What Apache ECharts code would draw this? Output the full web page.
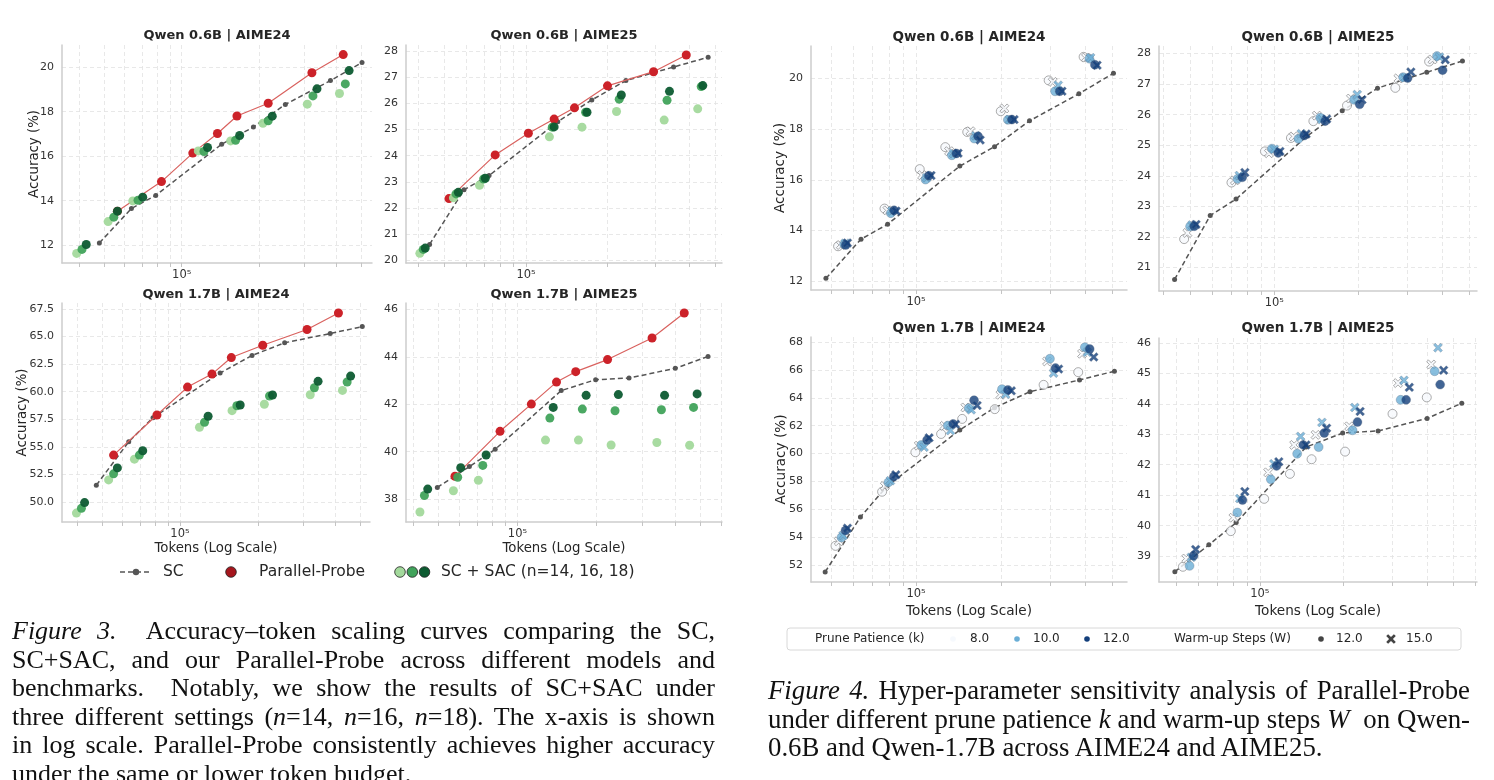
<!DOCTYPE html>
<html>
<head>
<meta charset="utf-8">
<script src="https://cdn.jsdelivr.net/npm/echarts@6/dist/echarts.min.js"></script>
<style>
html,body{margin:0;padding:0;background:#fff;width:1494px;height:780px;overflow:hidden;}
#chart{position:absolute;left:0;top:0;width:1494px;height:780px;}
.cap{position:absolute;font-family:'Liberation Serif','Times New Roman',serif;color:#111;font-size:26px;line-height:28.6px;}
.cap .j{text-align:justify;text-align-last:justify;}
.cap .l{text-align:left;}
.cap i{font-style:italic;}
</style>
</head>
<body>
<div id="chart"></div>
<div class="cap" style="left:12px;top:617px;width:703px;">
<div class="j"><i>Figure 3.</i>&nbsp; Accuracy–token scaling curves comparing the SC,</div>
<div class="j">SC+SAC, and our Parallel-Probe across different models and</div>
<div class="j">benchmarks.&nbsp; Notably, we show the results of SC+SAC under</div>
<div class="j">three different settings (<i>n</i>=14, <i>n</i>=16, <i>n</i>=18). The x-axis is shown</div>
<div class="j">in log scale. Parallel-Probe consistently achieves higher accuracy</div>
<div class="l">under the same or lower token budget.</div>
</div>
<div class="cap" style="left:768px;top:676px;width:702px;font-size:26.8px;">
<div class="j"><i>Figure 4.</i> Hyper-parameter sensitivity analysis of Parallel-Probe</div>
<div class="j">under different prune patience <i>k</i> and warm-up steps <i>W</i>&nbsp; on Qwen-</div>
<div class="l">0.6B and Qwen-1.7B across AIME24 and AIME25.</div>
</div>
<script>
// ---------------- DATA ----------------
const xTickValues = [40000,50000,60000,70000,80000,90000,100000,200000,300000,400000,500000,600000];
const xLabelValues = [100000];
const yTicks06_24 = [12,14,16,18,20];
const yTicks06_25 = [20,21,22,23,24,25,26,27,28];
const yTicks17_24 = [50,52.5,55,57.5,60,62.5,65,67.5];
const yTicks17_25 = [38,40,42,44,46];
const yTicksF4_06_24 = [12,14,16,18,20];
const yTicksF4_06_25 = [21,22,23,24,25,26,27,28];
const yTicksF4_17_24 = [52,54,56,58,60,62,64,66,68];
const yTicksF4_17_25 = [39,40,41,42,43,44,45,46];

// SC baseline (tokens, accuracy %)
const sc06_24 = [[47800,12.10],[63700,13.65],[79200,14.24],[143000,16.54],[190000,17.31],[253000,18.33],[379000,19.40],[503000,20.21]];
const sc06_25 = [[44000,20.61],[59000,22.70],[73000,23.24],[131000,25.30],[175000,26.13],[234000,26.87],[351000,27.39],[471000,27.76]];
const sc17_24 = [[47500,51.52],[63400,55.46],[78700,57.65],[143000,61.70],[190000,63.29],[254000,64.44],[381000,65.28],[507000,65.91]];
const sc17_25 = [[49400,38.49],[65500,39.37],[82200,40.10],[147000,42.58],[199000,43.04],[267000,43.11],[401000,43.52],[535000,44.02]];

// Parallel-Probe
const pp06_24 = [[56200,13.53],[83400,14.86],[110400,16.14],[137700,17.02],[164000,17.81],[217000,18.38],[321000,19.75],[425000,20.57]];
const pp06_25 = [[51900,22.36],[76900,24.03],[102000,24.86],[127000,25.40],[151000,25.83],[200000,26.67],[296000,27.21],[391000,27.85]];
const pp17_24 = [[55400,54.25],[81500,57.89],[107000,60.42],[133000,61.60],[158000,63.10],[209000,64.22],[310000,65.65],[410000,67.14]];
const pp17_25 = [[57700,38.96],[85800,40.86],[113000,42.01],[141000,42.94],[167000,43.38],[221000,43.89],[327000,44.80],[434000,45.86]];

// SC + SAC (n = 14, 16, 18)
const sac06_24_n14 = [[39000,11.63],[51700,13.06],[64500,13.99],[116000,16.24],[155000,16.69],[207000,17.48],[308000,18.34],[411000,18.82]];
const sac06_24_n16 = [[40900,11.81],[54400,13.26],[67600,14.02],[122000,16.21],[162000,16.72],[217000,17.59],[324000,18.71],[433000,19.25]];
const sac06_24_n18 = [[42500,12.03],[56200,13.53],[70500,14.16],[126000,16.39],[168000,16.93],[225000,17.80],[336000,19.03],[448000,19.85]];
const sac06_25_n14 = [[40500,20.27],[53900,22.39],[67300,22.87],[122000,24.72],[161000,25.09],[216000,25.69],[324000,25.36],[431000,25.79]];
const sac06_25_n16 = [[41700,20.42],[55100,22.54],[69700,23.11],[125000,25.09],[166000,25.66],[221000,26.16],[332000,26.12],[444000,26.64]];
const sac06_25_n18 = [[42400,20.47],[56200,22.60],[70700,23.14],[127000,25.10],[168000,25.66],[225000,26.32],[339000,26.46],[450000,26.68]];
const sac17_24_n14 = [[39800,48.99],[53000,52.00],[66700,53.88],[119000,56.78],[159000,58.28],[212000,58.86],[319000,59.73],[425000,60.12]];
const sac17_24_n16 = [[41600,49.42],[55400,52.55],[69700,54.25],[124500,57.23],[166000,58.73],[222000,59.61],[331000,60.36],[443000,60.88]];
const sac17_24_n18 = [[42800,49.94],[57300,53.09],[71800,54.64],[128500,57.77],[171000,58.80],[228000,59.70],[342000,60.94],[457000,61.42]];
const sac17_25_n14 = [[42400,37.45],[56900,38.35],[70900,38.79],[128000,40.49],[171000,40.49],[228000,40.28],[341000,40.39],[455000,40.27]];
const sac17_25_n16 = [[44100,38.15],[59100,38.92],[73700,39.42],[133000,41.42],[177000,41.80],[236000,41.73],[355000,41.77],[471000,41.87]];
const sac17_25_n18 = [[45400,38.42],[60700,39.32],[75900,39.86],[137000,41.87],[183000,42.38],[243000,42.41],[365000,42.38],[486000,42.44]];

// Figure 4: prune patience k x warm-up steps W
const hp06_24_k8w12  = [[52800,13.37],[77200,14.86],[103000,16.42],[127000,17.29],[152000,17.89],[200000,18.71],[296000,19.93],[394000,20.86]];
const hp06_24_k8w15  = [[54000,13.42],[79100,14.79],[105000,16.18],[131000,17.13],[156000,17.92],[206000,18.82],[306000,19.87],[402000,20.83]];
const hp06_24_k10w12 = [[55500,13.45],[81300,14.68],[108000,16.01],[134000,16.97],[161000,17.63],[212000,18.37],[312000,19.50],[413000,20.79]];
const hp06_24_k10w15 = [[56000,13.49],[82000,14.76],[109000,16.08],[136000,17.04],[163000,17.74],[215000,18.38],[320000,19.74],[417000,20.83]];
const hp06_24_k12w12 = [[56200,13.42],[83500,14.79],[111000,16.16],[139000,17.04],[166000,17.72],[219000,18.38],[324000,19.50],[432000,20.55]];
const hp06_24_k12w15 = [[57000,13.50],[84900,14.76],[113000,16.17],[141000,17.05],[169000,17.57],[223000,18.38],[330000,19.50],[440000,20.53]];

const hp06_25_k8w12  = [[47600,21.93],[70300,23.78],[92600,24.80],[114700,25.24],[138000,25.79],[182000,26.30],[271000,26.88],[358000,27.74]];
const hp06_25_k8w15  = [[48900,22.13],[72300,23.85],[95700,24.74],[117300,25.29],[142000,25.97],[188000,26.53],[278000,27.19],[368000,27.81]];
const hp06_25_k10w12 = [[50000,22.34],[73900,23.90],[98100,24.89],[122000,25.21],[146000,25.90],[193000,26.49],[289000,27.23],[382000,27.92]];
const hp06_25_k10w15 = [[50800,22.39],[75000,24.01],[100000,24.87],[125000,25.38],[148000,25.84],[198000,26.66],[294000,27.21],[390000,27.89]];
const hp06_25_k12w12 = [[51700,22.35],[76800,23.95],[103300,24.75],[128000,25.32],[152000,25.79],[202000,26.34],[300000,27.20],[400000,27.46]];
const hp06_25_k12w15 = [[52500,22.41],[78500,24.11],[104800,24.80],[130000,25.37],[154000,25.86],[206000,26.49],[308000,27.40],[409000,27.80]];

const hp17_24_k8w12  = [[51700,53.39],[75700,57.27],[99400,60.10],[122700,61.41],[145800,62.49],[190400,63.19],[284000,64.93],[377000,65.84]];
const hp17_24_k8w15  = [[53100,53.72],[77400,57.68],[102200,60.57],[126000,61.99],[149700,63.31],[199400,64.22],[292000,66.61],[389000,67.16]];
const hp17_24_k10w12 = [[54300,53.99],[79700,57.94],[104400,60.62],[129600,62.01],[153900,63.26],[202000,64.62],[299000,66.80],[398000,67.62]];
const hp17_24_k10w15 = [[55000,54.13],[81000,58.06],[106700,60.46],[132500,61.65],[157000,63.14],[208000,64.26],[308000,65.77],[406000,67.26]];
const hp17_24_k12w12 = [[56100,54.49],[83300,58.35],[109400,60.98],[135400,62.13],[160700,63.83],[212000,64.57],[313000,66.13],[414000,67.50]];
const hp17_24_k12w15 = [[57000,54.66],[84700,58.49],[111200,61.13],[138000,62.11],[164800,63.45],[218000,64.50],[321000,66.06],[428000,66.92]];

const hp17_25_k8w12  = [[52800,38.65],[78600,39.82],[103700,40.88],[128400,41.70],[153700,42.18],[203000,42.43],[301000,43.67],[400000,44.21]];
const hp17_25_k8w15  = [[54300,38.92],[80300,40.26],[107200,41.75],[133000,42.65],[158900,42.98],[210000,43.26],[315000,44.68],[415000,45.29]];
const hp17_25_k10w12 = [[55800,38.68],[83000,40.43],[109600,41.52],[136400,42.36],[163000,42.58],[216000,43.13],[322000,44.13],[427000,45.07]];
const hp17_25_k10w15 = [[56600,38.96],[84700,40.89],[112400,42.03],[140300,42.93],[167500,43.39],[220000,43.88],[331000,44.77],[439000,45.84]];
const hp17_25_k12w12 = [[57700,39.01],[86600,40.84],[114900,41.96],[143400,42.65],[170800,43.04],[225000,43.40],[337000,44.13],[447000,44.63]];
const hp17_25_k12w15 = [[58700,39.22],[88300,41.12],[117100,42.10],[146700,42.65],[174100,43.20],[230000,43.75],[346000,44.54],[460000,45.10]];

// ---------------- STYLE / LAYOUT ----------------
const FONT = 'DejaVu Sans';
const GREENS = ['#a3d99c', '#41a35b', '#0d5b31'];
const BLUES = ['#f6f9fd', '#6aaed6', '#133f7b'];
const XPATH = 'path://M2,0L5,3L8,0L10,2L7,5L10,8L8,10L5,7L2,10L0,8L3,5L0,2Z';

const panels = [
  {grid:{left:62, top:45, width:310, height:218}, x:[34200,550000], y:[11.2,21.0], yt:yTicks06_24, dec:0, title:'Qwen 0.6B | AIME24', tx:217, ty:36, yName:true, xName:false, ts:13, yGap:21},
  {grid:{left:406, top:45, width:316, height:218}, x:[36000,530000], y:[19.9,28.23], yt:yTicks06_25, dec:0, title:'Qwen 0.6B | AIME25', tx:564, ty:36, yName:false, xName:false, ts:13, yGap:21},
  {grid:{left:62, top:303, width:308, height:219}, x:[35000,543000], y:[48.18,68.05], yt:yTicks17_24, dec:1, title:'Qwen 1.7B | AIME24', tx:216, ty:295, yName:true, xName:true, ts:13, yGap:33},
  {grid:{left:406, top:303, width:316, height:219}, x:[37500,605000], y:[37.03,46.28], yt:yTicks17_25, dec:0, title:'Qwen 1.7B | AIME25', tx:564, ty:295, yName:false, xName:true, ts:13, yGap:21},
  {grid:{left:811, top:46, width:316, height:244}, x:[42300,562000], y:[11.64,21.29], yt:yTicksF4_06_24, dec:0, title:'Qwen 0.6B | AIME24', tx:969, ty:37, yName:true, xName:false, ts:13.5, yGap:24},
  {grid:{left:1159, top:46, width:318, height:245}, x:[38700,531000], y:[20.23,28.25], yt:yTicksF4_06_25, dec:0, title:'Qwen 0.6B | AIME25', tx:1318, ty:37, yName:false, xName:false, ts:13.5, yGap:24},
  {grid:{left:811, top:337, width:316, height:245}, x:[42300,562000], y:[50.8,68.36], yt:yTicksF4_17_24, dec:0, title:'Qwen 1.7B | AIME24', tx:969, ty:328, yName:true, xName:true, ts:13.5, yGap:23},
  {grid:{left:1159, top:338, width:318, height:244}, x:[43300,607000], y:[38.15,46.16], yt:yTicksF4_17_25, dec:0, title:'Qwen 1.7B | AIME25', tx:1318, ty:328, yName:false, xName:true, ts:13.5, yGap:23}
];

const grids = [], xAxes = [], yAxes = [], series = [], graphics = [];
const gridLine = {show:true, lineStyle:{color:'#e2e2e2', width:0.8, type:[4,3]}};
const spine = {show:true, onZero:false, lineStyle:{color:'#cdcdcd', width:1.5}};

panels.forEach((p, i) => {
  grids.push(Object.assign({containLabel:false}, p.grid));
  const xt = xTickValues.filter(v => v >= p.x[0] && v <= p.x[1]);
  const nameFs = i >= 4 ? 13.6 : 13.3;
  xAxes.push({
    type:'log', logBase:10, gridIndex:i, min:p.x[0], max:p.x[1],
    axisLine:spine,
    axisTick:{show:true, length:4, customValues:xt, lineStyle:{color:'#c4c4c4', width:1}},
    axisLabel:{show:true, customValues:xLabelValues, formatter:() => '10\u2075', color:'#333', fontSize:11.5, fontFamily:FONT, margin:6},
    splitLine:gridLine, minorTick:{show:false}, minorSplitLine:{show:false},
    name:p.xName ? 'Tokens (Log Scale)' : '', nameLocation:'middle', nameGap: i >= 4 ? 22 : 20, nameMoveOverlap:false,
    nameTextStyle:{fontFamily:FONT, fontSize:nameFs, color:'#262626'}
  });
  yAxes.push({
    type:'value', gridIndex:i, min:p.y[0], max:p.y[1],
    axisLine:spine,
    axisTick:{show:false, customValues:p.yt},
    axisLabel:{show:true, customValues:p.yt, formatter:v => Number(v).toFixed(p.dec), color:'#333', fontSize:11, fontFamily:FONT, margin:8},
    splitLine:gridLine,
    name:p.yName ? 'Accuracy (%)' : '', nameLocation:'middle', nameGap:p.yGap, nameRotate:90, nameMoveOverlap:false,
    nameTextStyle:{fontFamily:FONT, fontSize:nameFs, color:'#262626'}
  });
  graphics.push({type:'text', x:p.tx, y:p.ty, style:{text:p.title, font:'bold ' + p.ts + 'px ' + FONT, fill:'#262626', align:'center', verticalAlign:'middle'}});
});

function scSeries(i, data) {
  return {type:'line', xAxisIndex:i, yAxisIndex:i, data:data, symbol:'circle', symbolSize:5,
    lineStyle:{color:'#555', width:1.5, type:[5,3]}, itemStyle:{color:'#555'}, z:2, silent:true};
}
function fig3(i, sc, pp, a, b, c) {
  series.push(scSeries(i, sc));
  series.push({type:'line', xAxisIndex:i, yAxisIndex:i, data:pp, symbol:'circle', symbolSize:9,
    lineStyle:{color:'#d9625f', width:1.2}, itemStyle:{color:'#cc2229'}, z:3, silent:true});
  [a, b, c].forEach((d, k) => series.push({type:'scatter', xAxisIndex:i, yAxisIndex:i, data:d, symbol:'circle', symbolSize:9,
    itemStyle:{color:GREENS[k], opacity:0.95}, z:4 + k, silent:true}));
}
function fig4(i, sc, sets) {
  series.push(scSeries(i, sc));
  sets.forEach((d, j) => {
    const k = Math.floor(j / 2), isX = j % 2 === 1;
    series.push({type:'scatter', xAxisIndex:i, yAxisIndex:i, data:d,
      symbol: isX ? XPATH : 'circle', symbolSize: 9,
      itemStyle:{color:BLUES[k], borderColor: k === 0 ? '#7d7d7d' : '#5a6a80', borderWidth: k === 0 ? 0.8 : 0.4},
      z:4 + k, silent:true});
  });
}
fig3(0, sc06_24, pp06_24, sac06_24_n14, sac06_24_n16, sac06_24_n18);
fig3(1, sc06_25, pp06_25, sac06_25_n14, sac06_25_n16, sac06_25_n18);
fig3(2, sc17_24, pp17_24, sac17_24_n14, sac17_24_n16, sac17_24_n18);
fig3(3, sc17_25, pp17_25, sac17_25_n14, sac17_25_n16, sac17_25_n18);
fig4(4, sc06_24, [hp06_24_k8w12, hp06_24_k8w15, hp06_24_k10w12, hp06_24_k10w15, hp06_24_k12w12, hp06_24_k12w15]);
fig4(5, sc06_25, [hp06_25_k8w12, hp06_25_k8w15, hp06_25_k10w12, hp06_25_k10w15, hp06_25_k12w12, hp06_25_k12w15]);
fig4(6, sc17_24, [hp17_24_k8w12, hp17_24_k8w15, hp17_24_k10w12, hp17_24_k10w15, hp17_24_k12w12, hp17_24_k12w15]);
fig4(7, sc17_25, [hp17_25_k8w12, hp17_25_k8w15, hp17_25_k10w12, hp17_25_k10w15, hp17_25_k12w12, hp17_25_k12w15]);

// ---- Figure 3 legend ----
const LY = 572;
const lf = '15.5px ' + FONT;
graphics.push(
  {type:'line', shape:{x1:120, y1:LY, x2:152, y2:LY}, style:{stroke:'#555', lineWidth:1.5, lineDash:[5,3]}},
  {type:'circle', shape:{cx:136, cy:LY, r:3.2}, style:{fill:'#555'}},
  {type:'text', x:163, y:LY, style:{text:'SC', font:lf, fill:'#262626', verticalAlign:'middle'}},
  {type:'circle', shape:{cx:231, cy:LY, r:5.3}, style:{fill:'#a5161d', stroke:'#222', lineWidth:0.8}},
  {type:'text', x:259, y:LY, style:{text:'Parallel-Probe', font:lf, fill:'#262626', verticalAlign:'middle'}},
  {type:'circle', shape:{cx:400, cy:LY, r:5.3}, style:{fill:GREENS[0], stroke:'#222', lineWidth:0.8}},
  {type:'circle', shape:{cx:412.3, cy:LY, r:5.3}, style:{fill:GREENS[1], stroke:'#222', lineWidth:0.8}},
  {type:'circle', shape:{cx:424.5, cy:LY, r:5.3}, style:{fill:GREENS[2], stroke:'#222', lineWidth:0.8}},
  {type:'text', x:441, y:LY, style:{text:'SC + SAC (n=14, 16, 18)', font:lf, fill:'#262626', verticalAlign:'middle'}}
);
// ---- Figure 4 legend ----
const L4 = 639;
const lf4 = '12px ' + FONT;
const xc = 1391, s = 0.32;
const xPts = [[-3,-5],[0,-2],[3,-5],[5,-3],[2,0],[5,3],[3,5],[0,2],[-3,5],[-5,3],[-2,0],[-5,-3]].map(q => [xc + q[0] * 2 * s * 1.5, L4 + q[1] * 2 * s * 1.5]);
graphics.push(
  {type:'rect', shape:{x:787, y:628, width:674, height:22, r:3}, style:{fill:'#fff', stroke:'#d8d8d8', lineWidth:1}},
  {type:'text', x:815, y:L4, style:{text:'Prune Patience (k)', font:lf4, fill:'#262626', verticalAlign:'middle'}},
  {type:'circle', shape:{cx:953, cy:L4, r:2.8}, style:{fill:BLUES[0]}},
  {type:'text', x:970, y:L4, style:{text:'8.0', font:lf4, fill:'#262626', verticalAlign:'middle'}},
  {type:'circle', shape:{cx:1017, cy:L4, r:2.8}, style:{fill:BLUES[1]}},
  {type:'text', x:1033, y:L4, style:{text:'10.0', font:lf4, fill:'#262626', verticalAlign:'middle'}},
  {type:'circle', shape:{cx:1087, cy:L4, r:2.8}, style:{fill:BLUES[2]}},
  {type:'text', x:1103, y:L4, style:{text:'12.0', font:lf4, fill:'#262626', verticalAlign:'middle'}},
  {type:'text', x:1174, y:L4, style:{text:'Warm-up Steps (W)', font:lf4, fill:'#262626', verticalAlign:'middle'}},
  {type:'circle', shape:{cx:1321, cy:L4, r:2.8}, style:{fill:'#444'}},
  {type:'text', x:1336, y:L4, style:{text:'12.0', font:lf4, fill:'#262626', verticalAlign:'middle'}},
  {type:'polygon', shape:{points:xPts}, style:{fill:'#444'}},
  {type:'text', x:1406, y:L4, style:{text:'15.0', font:lf4, fill:'#262626', verticalAlign:'middle'}}
);

const chart = echarts.init(document.getElementById('chart'), null, {renderer:'canvas'});
chart.setOption({
  backgroundColor:'#ffffff',
  animation:false,
  grid:grids, xAxis:xAxes, yAxis:yAxes, series:series, graphic:graphics
});
</script>
</body>
</html>
